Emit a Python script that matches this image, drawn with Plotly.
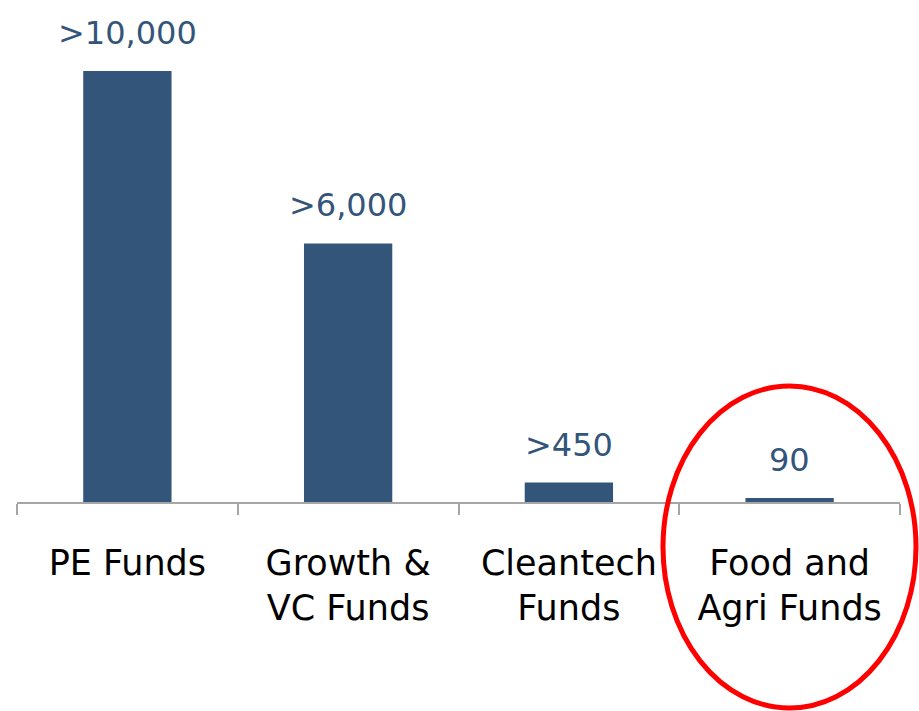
import plotly.graph_objects as go

categories = ["PE Funds", "Growth &<br>VC Funds", "Cleantech<br>Funds", "Food and<br>Agri Funds"]
values = [10000, 6000, 450, 90]
value_labels = [">10,000", ">6,000", ">450", "90"]

BAR = "#34557a"
W, H = 919, 711
ML, MR, MT, MB = 17, 19, 0, 209

fig = go.Figure()
fig.add_trace(go.Bar(x=categories, y=values, marker=dict(color=BAR, line=dict(width=0)),
                     width=0.4, hoverinfo="skip"))

for c, v, t in zip(categories, values, value_labels):
    fig.add_annotation(x=c, y=v, text=t, showarrow=False, yanchor="middle", yshift=38,
                       font=dict(family="DejaVu Sans", size=32, color=BAR))

pw = W - ML - MR
ph = H - MT - MB
def px_x(p):
    return (p - ML) / pw
def px_y(p):
    return (H - MB - p) / ph

fig.add_shape(type="circle", xref="paper", yref="paper",
              x0=px_x(663), x1=px_x(916), y0=px_y(708), y1=px_y(386),
              line=dict(color="#ff0000", width=5), layer="above")

fig.update_layout(
    width=W, height=H, margin=dict(l=ML, r=MR, t=MT, b=MB),
    paper_bgcolor="white", plot_bgcolor="white", showlegend=False,
    bargap=0.6,
    xaxis=dict(type="category", range=[-0.5, 3.5], showline=True, linecolor="#a6a6a6", linewidth=1.5,
               ticks="outside", tickson="boundaries", ticklen=11, tickcolor="#a6a6a6", tickwidth=1.5,
               tickfont=dict(family="DejaVu Sans", size=35, color="black"), showgrid=False,
               ticklabelstandoff=29, fixedrange=True),
    yaxis=dict(range=[0, 11647], visible=False, showgrid=False, fixedrange=True),
)

fig.write_html("out.html")
